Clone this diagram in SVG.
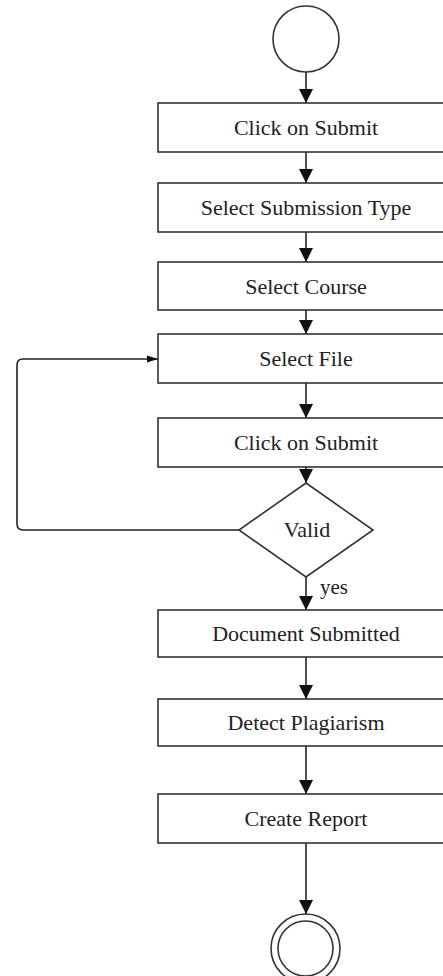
<svg xmlns="http://www.w3.org/2000/svg" width="443" height="976" viewBox="0 0 443 976">
<style>
.box{fill:#fff;stroke:#333;stroke-width:1.6}
.lbl{font-family:"Liberation Serif","Times New Roman",serif;font-size:22px;fill:#222;text-anchor:middle}
.edge{fill:none;stroke:#222;stroke-width:1.6}
</style>
<defs>
<marker id="ah" markerUnits="userSpaceOnUse" markerWidth="14" markerHeight="16" viewBox="0 0 14 16" refX="14" refY="7" orient="auto">
<path d="M0,0 L14,7 L0,14 Z" fill="#111"/>
</marker>
<marker id="ahs" markerUnits="userSpaceOnUse" markerWidth="11" markerHeight="8" viewBox="0 0 11 8" refX="11" refY="4" orient="auto">
<path d="M0,0.5 L11,4 L0,7.5 Z" fill="#111"/>
</marker>
</defs>
<rect width="443" height="976" fill="#fff"/>
<g id="connectors">
<line class="edge" x1="306" y1="72" x2="306" y2="103" marker-end="url(#ah)"/>
<line class="edge" x1="306" y1="152" x2="306" y2="183" marker-end="url(#ah)"/>
<line class="edge" x1="306" y1="232" x2="306" y2="262" marker-end="url(#ah)"/>
<line class="edge" x1="306" y1="310" x2="306" y2="334" marker-end="url(#ah)"/>
<line class="edge" x1="306" y1="383" x2="306" y2="418" marker-end="url(#ah)"/>
<line class="edge" x1="306" y1="467" x2="306" y2="483" marker-end="url(#ah)"/>
<line class="edge" x1="306" y1="577" x2="306" y2="610" marker-end="url(#ah)"/>
<line class="edge" x1="306" y1="657" x2="306" y2="699" marker-end="url(#ah)"/>
<line class="edge" x1="306" y1="746" x2="306" y2="794" marker-end="url(#ah)"/>
<line class="edge" x1="306" y1="843" x2="306" y2="914" marker-end="url(#ah)"/>
<path class="edge" d="M239,530 L23,530 Q17,530 17,524 L17,365 Q17,359 23,359 L158,359" marker-end="url(#ahs)"/>
<text x="320" y="594" font-family="Liberation Serif,serif" font-size="21" fill="#222">yes</text>
</g>
<g id="start"><circle cx="306" cy="39" r="33" class="box"/></g>
<g id="n1"><rect class="box" x="158" y="103" width="296" height="49"/><text class="lbl" x="306" y="135">Click on Submit</text></g>
<g id="n2"><rect class="box" x="158" y="183" width="296" height="49"/><text class="lbl" x="306" y="215">Select Submission Type</text></g>
<g id="n3"><rect class="box" x="158" y="262" width="296" height="48"/><text class="lbl" x="306" y="294">Select Course</text></g>
<g id="n4"><rect class="box" x="158" y="334" width="296" height="49"/><text class="lbl" x="306" y="366">Select File</text></g>
<g id="n5"><rect class="box" x="158" y="418" width="296" height="49"/><text class="lbl" x="306" y="450">Click on Submit</text></g>
<g id="valid"><polygon class="box" points="306,483 373,530 306,577 239,530"/><text class="lbl" x="307" y="537">Valid</text></g>
<g id="n6"><rect class="box" x="158" y="610" width="296" height="47"/><text class="lbl" x="306" y="641">Document Submitted</text></g>
<g id="n7"><rect class="box" x="158" y="699" width="296" height="47"/><text class="lbl" x="306" y="730">Detect Plagiarism</text></g>
<g id="n8"><rect class="box" x="158" y="794" width="296" height="49"/><text class="lbl" x="306" y="826">Create Report</text></g>
<g id="end"><circle cx="305.5" cy="948.5" r="34.5" class="box"/><circle cx="305.5" cy="948.5" r="27.5" class="box"/></g>
</svg>
